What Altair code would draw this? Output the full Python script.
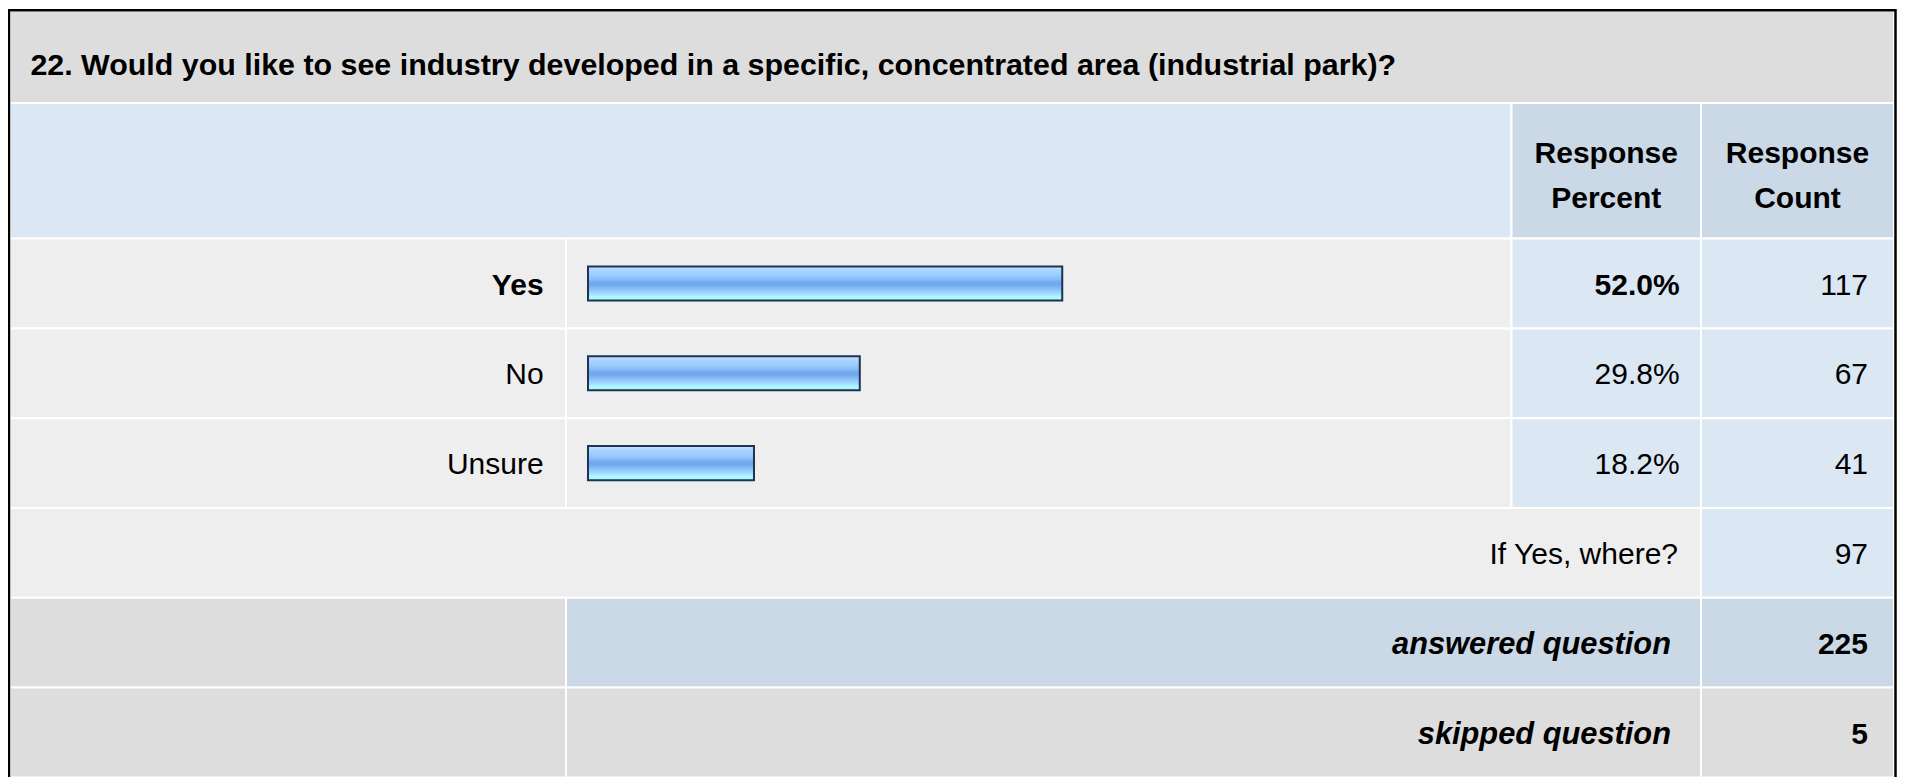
import altair as alt
import pandas as pd

# ---------------- data ----------------
title = "22. Would you like to see industry developed in a specific, concentrated area (industrial park)?"
header_percent = ["Response", "Percent"]
header_count = ["Response", "Count"]
categories = ["Yes", "No", "Unsure"]
percents = [52.0, 29.8, 18.2]
counts = [117, 67, 41]
other_label = "If Yes, where?"
other_count = 97
answered_label = "answered question"
answered_count = 225
skipped_label = "skipped question"
skipped_count = 5

# ---------------- layout (view px) ----------------
O = 8
W, H = 1891, 769
FONT = "Liberation Sans"
FS = 30

XL, XAB, XBC, XCD, XR = 10 - O, 566 - O, 1511.5 - O, 1701 - O, 1894 - O
YT, YTH, YHR = 11 - O, 103 - O, 238.6 - O
STEP = 89.8

LIGHT_GRAY = "#eeeeee"
GRAY = "#dddddd"
LIGHT_BLUE = "#dce7f4"
BLUE = "#cbd8e6"

row_keys = categories + [other_label, answered_label, skipped_label]
y_rows = alt.Scale(domain=row_keys, range=[YHR, YHR + STEP * len(row_keys)],
                   paddingInner=0, paddingOuter=0)

# ---------------- cells ----------------
fixed_cells = pd.DataFrame([
    dict(x0=XL, x1=XR, y0=YT, y1=YTH, fill=GRAY),
    dict(x0=XL, x1=XBC, y0=YTH, y1=YHR, fill=LIGHT_BLUE),
    dict(x0=XBC, x1=XCD, y0=YTH, y1=YHR, fill=BLUE),
    dict(x0=XCD, x1=XR, y0=YTH, y1=YHR, fill=BLUE),
])

rc = []
for c in categories:
    rc += [dict(row=c, x0=XL, x1=XAB, fill=LIGHT_GRAY),
           dict(row=c, x0=XAB, x1=XBC, fill=LIGHT_GRAY),
           dict(row=c, x0=XBC, x1=XCD, fill=LIGHT_BLUE),
           dict(row=c, x0=XCD, x1=XR, fill=LIGHT_BLUE)]
rc += [dict(row=other_label, x0=XL, x1=XCD, fill=LIGHT_GRAY),
       dict(row=other_label, x0=XCD, x1=XR, fill=LIGHT_BLUE)]
rc += [dict(row=answered_label, x0=XL, x1=XAB, fill=GRAY),
       dict(row=answered_label, x0=XAB, x1=XCD, fill=BLUE),
       dict(row=answered_label, x0=XCD, x1=XR, fill=BLUE)]
rc += [dict(row=skipped_label, x0=XL, x1=XAB, fill=GRAY),
       dict(row=skipped_label, x0=XAB, x1=XCD, fill=GRAY),
       dict(row=skipped_label, x0=XCD, x1=XR, fill=GRAY)]
row_cells = pd.DataFrame(rc)

fixed_layer = alt.Chart(fixed_cells).mark_rect(stroke="white", strokeWidth=2).encode(
    x=alt.X("x0:Q", scale=None, axis=None), x2="x1:Q",
    y=alt.Y("y0:Q", scale=None, axis=None), y2="y1:Q",
    fill=alt.Fill("fill:N", scale=None),
)
row_layer = alt.Chart(row_cells).mark_rect(stroke="white", strokeWidth=2).encode(
    x=alt.X("x0:Q", scale=None, axis=None), x2="x1:Q",
    y=alt.Y("row:N", scale=y_rows, axis=None),
    fill=alt.Fill("fill:N", scale=None),
)

# ---------------- bars ----------------
grad = alt.LinearGradient(
    gradient="linear", x1=0, y1=0, x2=0, y2=1,
    stops=[
        alt.GradientStop(color="#c8e4ff", offset=0.0),
        alt.GradientStop(color="#aad4ff", offset=0.12),
        alt.GradientStop(color="#9ccbff", offset=0.26),
        alt.GradientStop(color="#88bdf7", offset=0.38),
        alt.GradientStop(color="#70a9ee", offset=0.46),
        alt.GradientStop(color="#70a9ee", offset=0.55),
        alt.GradientStop(color="#84baf5", offset=0.63),
        alt.GradientStop(color="#98ccfd", offset=0.73),
        alt.GradientStop(color="#a6e2ff", offset=0.82),
        alt.GradientStop(color="#adf9ff", offset=0.88),
        alt.GradientStop(color="#adf9ff", offset=1.0),
    ],
)
bars_df = pd.DataFrame({"row": categories, "pct": percents})
bar_layer = alt.Chart(bars_df).mark_bar(fill=grad, stroke="#1e3354", strokeWidth=2).encode(
    x=alt.X("pct:Q", scale=alt.Scale(domain=[0, 100], range=[580, 1492]), axis=None),
    y=alt.Y("row:N", scale=alt.Scale(domain=categories, range=[YHR, YHR + STEP * 3],
                                     paddingInner=0.62, paddingOuter=0.31), axis=None),
)

# ---------------- texts ----------------
top = max(percents)
cat_df = pd.DataFrame({
    "row": categories,
    "pct_label": [f"{p:.1f}%" for p in percents],
    "count": [str(c) for c in counts],
    "top": [p == top for p in percents],
})


def row_text(df, field, x, align="right", weight="normal", style="normal", size=FS):
    return alt.Chart(df).mark_text(
        align=align, baseline="middle", font=FONT, fontSize=size, fontWeight=weight,
        fontStyle=style, color="#000000", dy=2,
    ).encode(x=alt.value(x), y=alt.Y("row:N", scale=y_rows, axis=None), text=f"{field}:N")


top_df = cat_df[cat_df["top"]]
rest_df = cat_df[~cat_df["top"]]
X_LABEL = 543.6 - O
X_PCT = 1679.6 - O
X_CNT = 1868 - O

texts = [
    row_text(top_df, "row", X_LABEL, weight="bold"),
    row_text(rest_df, "row", X_LABEL),
    row_text(top_df, "pct_label", X_PCT, weight="bold"),
    row_text(rest_df, "pct_label", X_PCT),
    row_text(cat_df, "count", X_CNT),
]

other_df = pd.DataFrame({"row": [other_label], "count": [str(other_count)]})
texts += [row_text(other_df, "row", 1678 - O), row_text(other_df, "count", X_CNT)]

summary_df = pd.DataFrame({"row": [answered_label, skipped_label],
                           "count": [str(answered_count), str(skipped_count)]})
texts += [row_text(summary_df, "row", 1671 - O, weight="bold", style="italic", size=30.8),
          row_text(summary_df, "count", X_CNT, weight="bold")]


def fixed_text(s, x, y, align, weight="bold", size=FS):
    return alt.Chart(pd.DataFrame({"t": [s]})).mark_text(
        align=align, baseline="middle", font=FONT, fontSize=size, fontWeight=weight, color="#000000",
    ).encode(x=alt.value(x), y=alt.value(y), text="t:N")


XC_PCT = (XBC + XCD) / 2
XC_CNT = (XCD + XR) / 2
texts += [
    fixed_text(title, 30.4 - O, 65.5 - O, "left", size=30.4),
    fixed_text(header_percent[0], XC_PCT, 153.5 - O, "center"),
    fixed_text(header_percent[1], XC_PCT, 198.5 - O, "center"),
    fixed_text(header_count[0], XC_CNT, 153.5 - O, "center"),
    fixed_text(header_count[1], XC_CNT, 198.5 - O, "center"),
]

# ---------------- frame ----------------
frame = alt.Chart(pd.DataFrame({"k": [0]})).mark_rect(
    fillOpacity=0, stroke="#000000", strokeWidth=2.5
).encode(x=alt.value(1), x2=alt.value(1887.5), y=alt.value(2.2), y2=alt.value(H + 40))

chart = alt.layer(fixed_layer, row_layer, bar_layer, *texts, frame).resolve_scale(
    x="independent", y="independent"
).properties(
    width=W, height=H, autosize=alt.AutoSizeParams(type="none"), padding=0,
).configure_view(stroke=None)

chart.save("out.html", embed_options={"renderer": "svg", "actions": False})
